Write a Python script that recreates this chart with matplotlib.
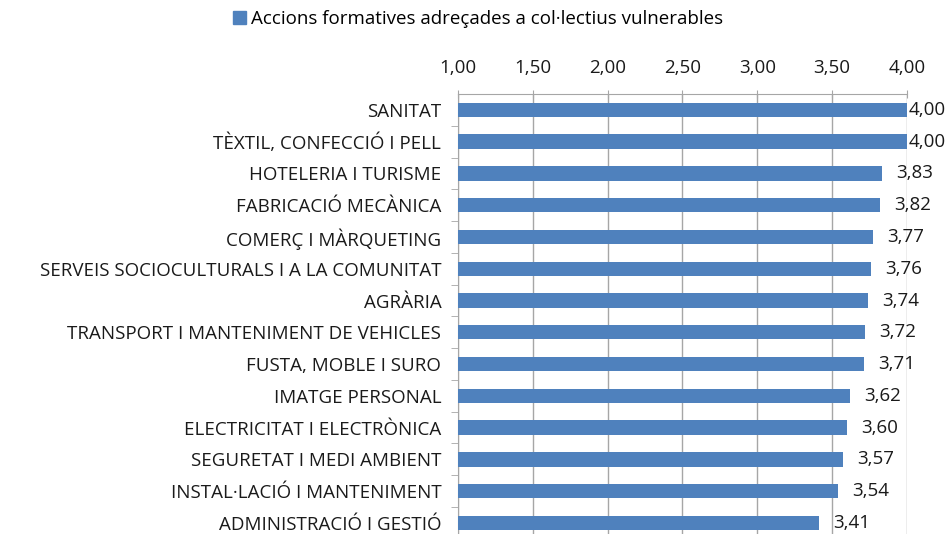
import matplotlib
matplotlib.use("Agg")
import matplotlib.pyplot as plt
from matplotlib.patches import Patch

categories = [
    "SANITAT",
    "TÈXTIL, CONFECCIÓ I PELL",
    "HOTELERIA I TURISME",
    "FABRICACIÓ MECÀNICA",
    "COMERÇ I MÀRQUETING",
    "SERVEIS SOCIOCULTURALS I A LA COMUNITAT",
    "AGRÀRIA",
    "TRANSPORT I MANTENIMENT DE VEHICLES",
    "FUSTA, MOBLE I SURO",
    "IMATGE PERSONAL",
    "ELECTRICITAT I ELECTRÒNICA",
    "SEGURETAT I MEDI AMBIENT",
    "INSTAL·LACIÓ I MANTENIMENT",
    "ADMINISTRACIÓ I GESTIÓ",
]
values = [4.00, 4.00, 3.83, 3.82, 3.77, 3.76, 3.74, 3.72, 3.71, 3.62, 3.60, 3.57, 3.54, 3.41]
xticks = [1.0, 1.5, 2.0, 2.5, 3.0, 3.5, 4.0]
series_name = "Accions formatives adreçades a col·lectius vulnerables"

plt.rcParams['font.family'] = ['Open Sans', 'DejaVu Sans']
blue = "#4f81bd"
grey = "#a6a6a6"
txt = "#1a1a1a"
fs = 13.5

fig = plt.figure(figsize=(9.49, 5.34), dpi=100)
# axes runs a bit past the bottom edge, like the original (last bar is cut)
ax = fig.add_axes([0.4826, -0.0090, 0.4731, 0.8330])

ypos = list(range(len(categories)))
ax.barh(ypos, [v - 1.0 for v in values], left=1.0, height=0.45, color=blue, zorder=3)
ax.set_ylim(len(categories) - 0.5, -0.5)
ax.set_xlim(1.0, 4.0)

ax.set_xticks(xticks)
ax.set_xticklabels([f"{t:.2f}".replace(".", ",") for t in xticks], fontsize=fs, color=txt)
ax.xaxis.tick_top()
ax.tick_params(axis="x", which="both", direction="inout", length=6, color=grey, pad=9)
ax.set_yticks(ypos)
ax.set_yticklabels(categories, fontsize=fs, color=txt)
ax.set_yticks([y + 0.5 for y in ypos], minor=True)
ax.tick_params(axis="y", which="major", length=0, pad=12)
ax.tick_params(axis="y", which="minor", length=5, color=grey)
ax.grid(axis="x", color=grey, linewidth=1, zorder=0)

for s in ["right", "bottom"]:
    ax.spines[s].set_visible(False)
ax.spines["top"].set_color(grey)
ax.spines["left"].set_color(grey)

for y, v in zip(ypos, values):
    lx = min(v + 0.095, 4.01)
    ax.text(lx, y, f"{v:.2f}".replace(".", ","), va="center", ha="left",
            fontsize=fs, color=txt, clip_on=False)

fig.legend(handles=[Patch(color=blue)], labels=[series_name], loc="center",
           bbox_to_anchor=(478 / 949, 1 - 19 / 534), frameon=False, fontsize=fs,
           handlelength=0.7, handleheight=0.7, handletextpad=0.3)

fig.savefig("out.png", dpi=100)
